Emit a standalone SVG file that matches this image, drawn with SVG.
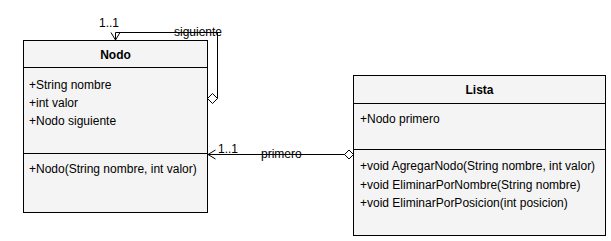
<svg xmlns="http://www.w3.org/2000/svg" width="611" height="241" viewBox="0 0 611 241">
  <style>
    .box { fill: #f4f4f4; stroke: #000; stroke-width: 1; }
    .sep { stroke: #000; stroke-width: 1; }
    .txt { font-family: "Liberation Sans", Arial, sans-serif; font-size: 12px; fill: #000; }
    .title { font-weight: bold; text-anchor: middle; }
    .edge { fill: none; stroke: #000; stroke-width: 1; }
    .diamond { fill: #fff; stroke: #000; stroke-width: 1; }
  </style>
  <rect width="611" height="241" fill="#fff"/>

  <!-- connectors -->
  <g id="connectors">
    <!-- Nodo.siguiente: self association -->
    <polyline class="edge" points="217.5,98.5 217.5,32.5 115.5,32.5 115.5,40"/>
    <polyline class="edge" points="111,32.5 115.5,40 120,32.5"/>
    <polygon class="diamond" points="207.5,98.5 212.5,93.5 217.5,98.5 212.5,103.5"/>
    <text class="txt" x="99" y="27">1..1</text>
    <text class="txt" x="174" y="35.5">siguiente</text>

    <!-- Lista.primero -> Nodo -->
    <line class="edge" x1="208" y1="154.5" x2="345" y2="154.5"/>
    <polyline class="edge" points="215.5,150 208,154.5 215.5,159"/>
    <polygon class="diamond" points="344.5,154.5 349,150 353.5,154.5 349,159"/>
    <text class="txt" x="218" y="152.5">1..1</text>
    <text class="txt" x="261" y="158">primero</text>
  </g>

  <!-- class Nodo -->
  <g id="nodo">
    <rect class="box" x="23.5" y="40.5" width="184" height="172"/>
    <line class="sep" x1="23.5" y1="67.5" x2="207.5" y2="67.5"/>
    <line class="sep" x1="23.5" y1="153.5" x2="207.5" y2="153.5"/>
    <text class="txt title" x="115.5" y="59">Nodo</text>
    <text class="txt" x="29" y="89">+String nombre</text>
    <text class="txt" x="29" y="107">+int valor</text>
    <text class="txt" x="29" y="125">+Nodo siguiente</text>
    <text class="txt" x="29" y="173">+Nodo(String nombre, int valor)</text>
  </g>

  <!-- class Lista -->
  <g id="lista">
    <rect class="box" x="353.5" y="75.5" width="252" height="160"/>
    <line class="sep" x1="353.5" y1="103.5" x2="605.5" y2="103.5"/>
    <line class="sep" x1="353.5" y1="149.5" x2="605.5" y2="149.5"/>
    <text class="txt title" x="479.5" y="94">Lista</text>
    <text class="txt" x="360" y="123">+Nodo primero</text>
    <text class="txt" x="360" y="170">+void AgregarNodo(String nombre, int valor)</text>
    <text class="txt" x="360" y="189">+void EliminarPorNombre(String nombre)</text>
    <text class="txt" x="360" y="207">+void EliminarPorPosicion(int posicion)</text>
  </g>
</svg>
